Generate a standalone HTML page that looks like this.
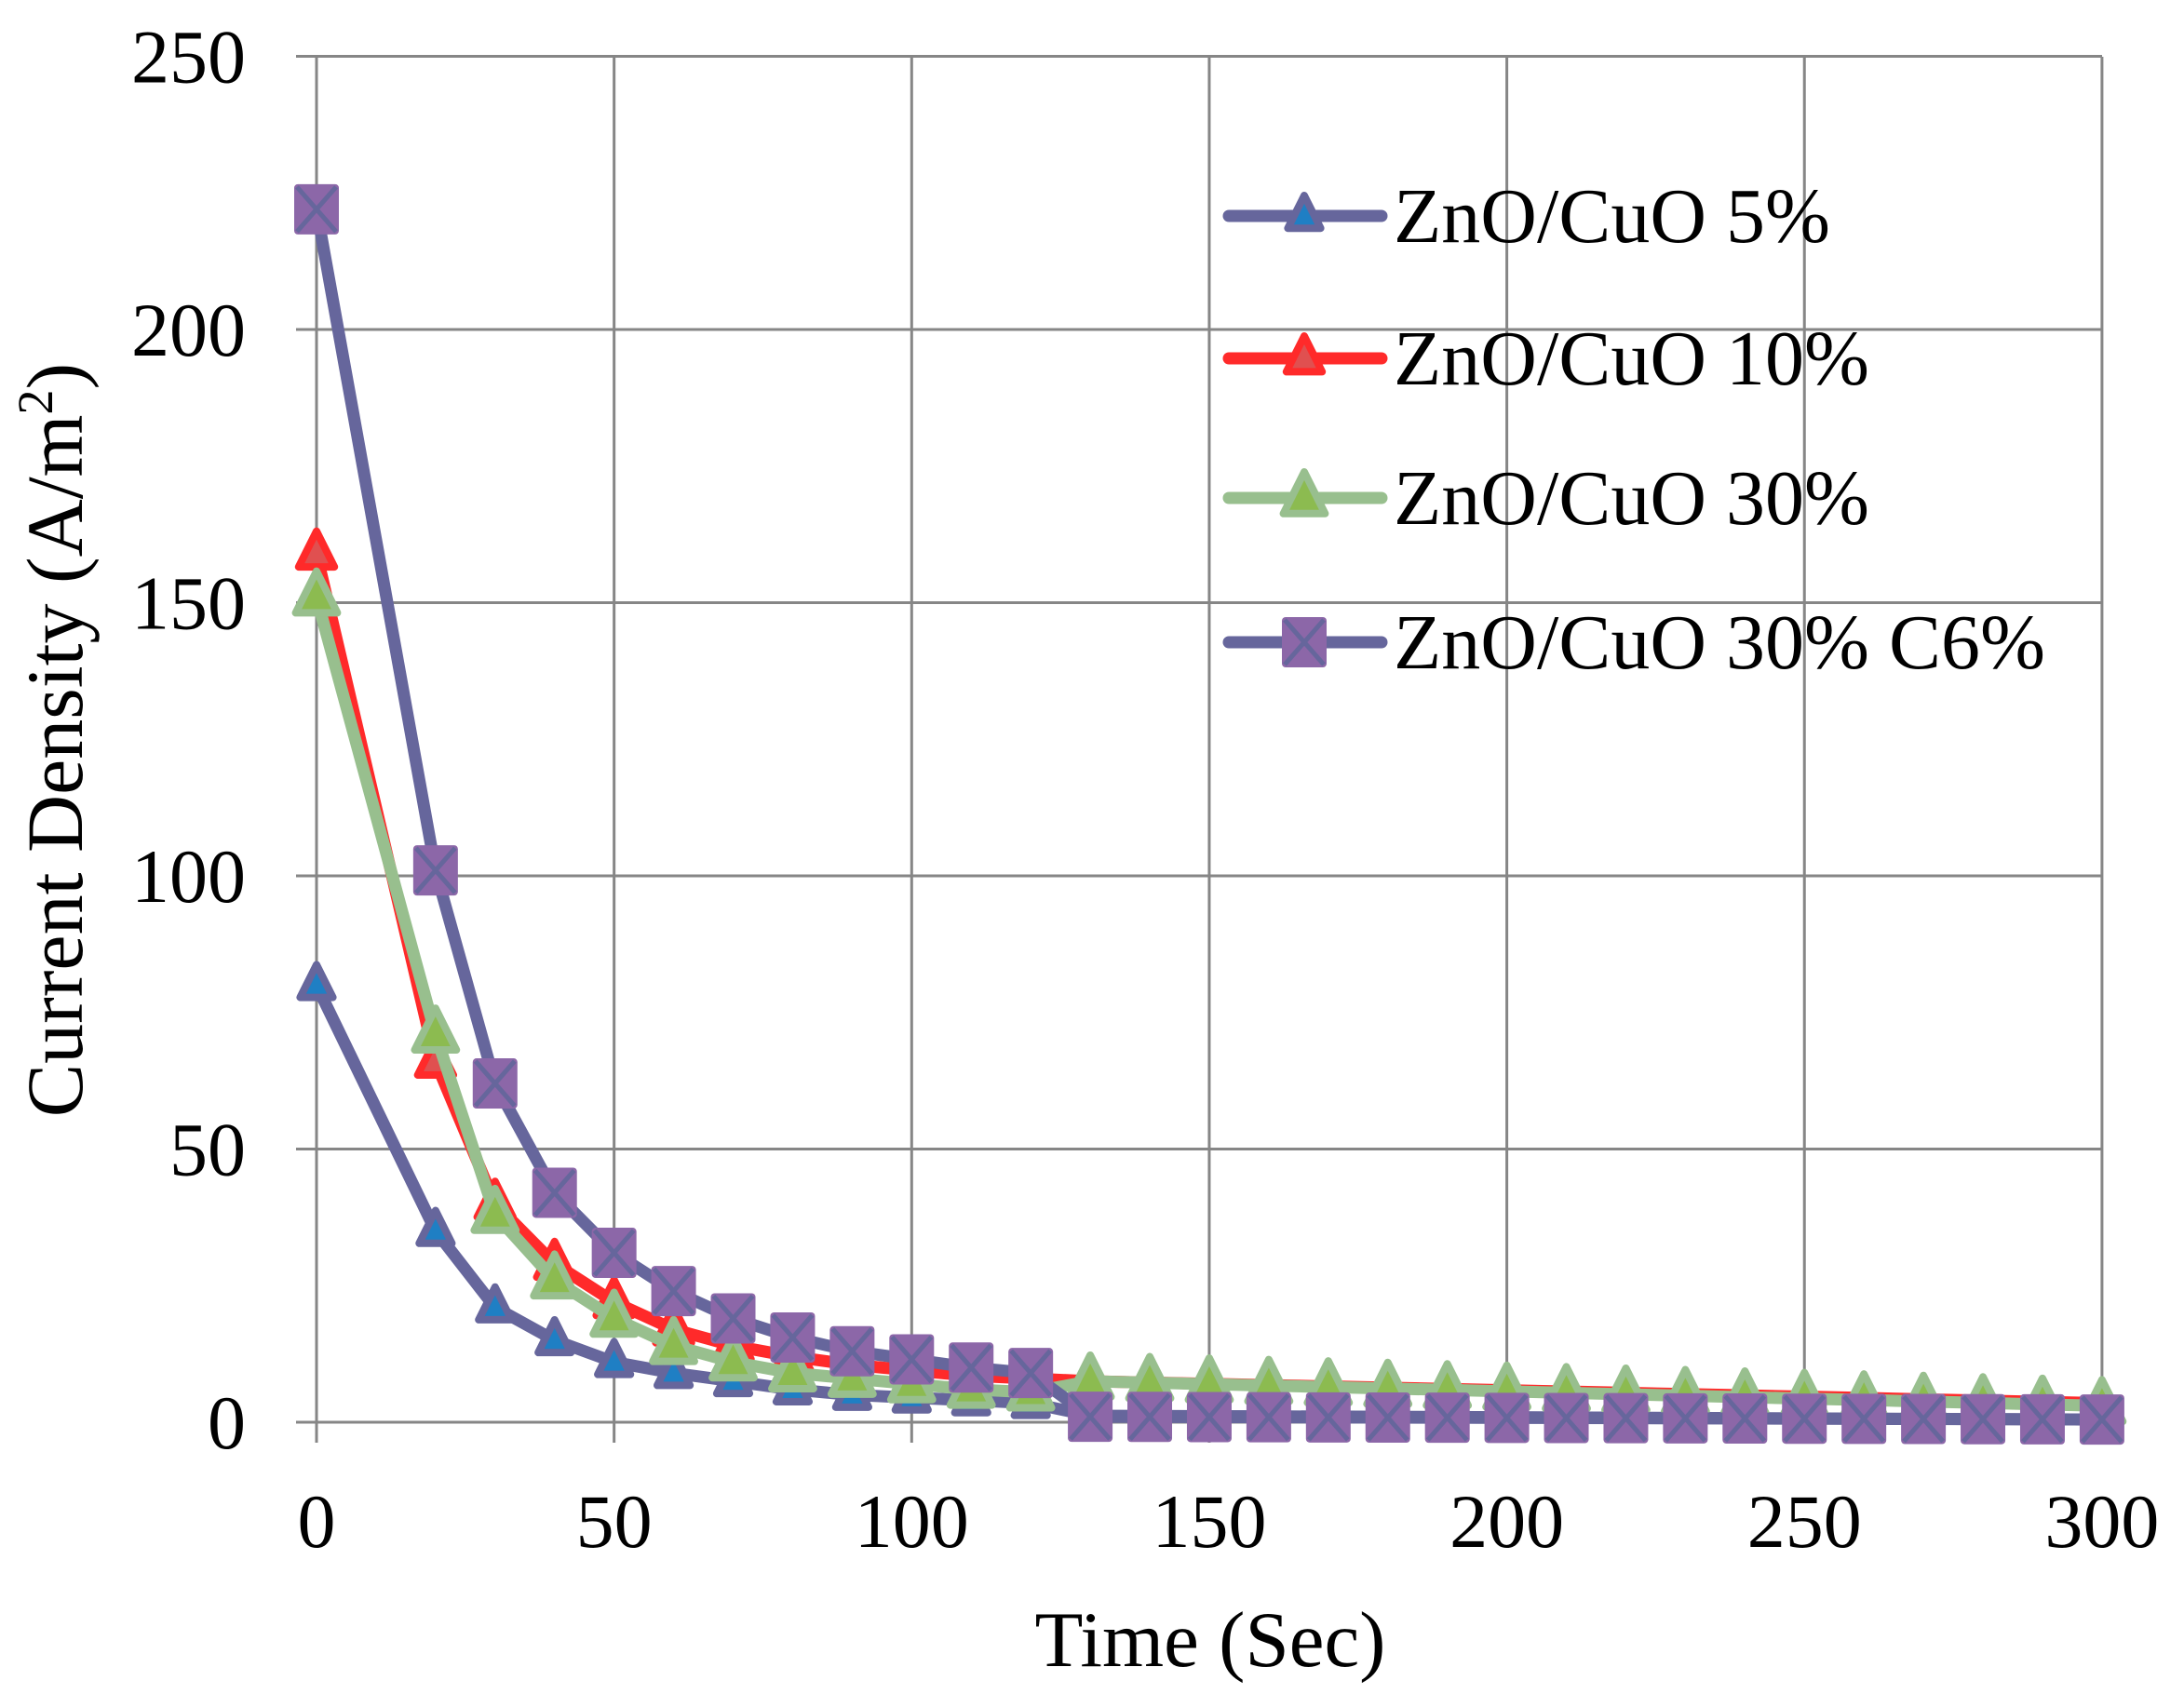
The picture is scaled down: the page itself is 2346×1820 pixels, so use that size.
<!DOCTYPE html>
<html><head><meta charset="utf-8"><style>
html,body{margin:0;padding:0;background:#fff;}
svg{display:block;}
text{font-family:"Liberation Serif",serif;fill:#000;}
</style></head><body>
<svg id="c" width="2346" height="1820" xmlns="http://www.w3.org/2000/svg">
<g id="grid" stroke="#868686" stroke-width="3"></g>
<g id="labels" font-size="82"></g>
<text x="1300" y="1790" font-size="85" text-anchor="middle">Time (Sec)</text>
<text transform="translate(88,795) rotate(-90)" font-size="86" text-anchor="middle">Current Density (A/m<tspan font-size="54" dy="-32">2</tspan><tspan dy="32">)</tspan></text>
<g id="series"></g>
<g id="legend"></g>
</svg>
<script>
const NS="http://www.w3.org/2000/svg";
const X=t=>340+t*6.393, Y=v=>1528-v*5.87;
function el(p,tag,a,txt){const e=document.createElementNS(NS,tag);for(const k in a)e.setAttribute(k,a[k]);if(txt!=null)e.textContent=txt;p.appendChild(e);return e;}
const g=document.getElementById('grid'),lb=document.getElementById('labels');
for(let v=0;v<=250;v+=50){el(g,'line',{x1:318,x2:2258,y1:Y(v),y2:Y(v)});el(lb,'text',{x:264,y:Y(v)+28,'text-anchor':'end'},v);}
for(let t=0;t<=300;t+=50){el(g,'line',{x1:X(t),x2:X(t),y1:61,y2:1550});el(lb,'text',{x:X(t),y:1662,'text-anchor':'middle'},t);}
const T=[0,20,30,40,50,60,70,80,90,100,110,120];for(let t=130;t<=300;t+=10)T.push(t);
function tail(a,b,n){const r=[];for(let i=0;i<n;i++)r.push(a+(b-a)*i/(n-1));return r;}
const s5=[80,35,21,15,11,9,7.5,6,5,4.5,4,3.5].concat(tail(1.2,0.5,18));
const s10=[159,66,40,29,22,17,14,12,10.5,9.5,8.5,8].concat(tail(7.5,3.5,18));
const s30=[151,71,38,26,19,14,11,9,8,7,6,5.5].concat(tail(7.5,3,18));
const sc6=[222,101,62,42,31,24,19,15.5,13,11.5,10,9].concat(tail(1,0.5,18));
const S=document.getElementById('series');
function line(p,d,col){el(p,'polyline',{points:T.map((t,i)=>X(t)+','+Y(d[i])).join(' '),fill:'none',stroke:col,'stroke-width':13,'stroke-linejoin':'round','stroke-linecap':'round'});}
function tri(p,x,y,fill,st,s){el(p,'polygon',{points:`${x},${y-s} ${x-s*0.8},${y+s*0.6} ${x+s*0.8},${y+s*0.6}`,fill:fill,stroke:st,'stroke-width':8,'stroke-linejoin':'round'});}
function sq(p,x,y){el(p,'rect',{x:x-24,y:y-27,width:48,height:54,rx:4,fill:'#8c67a8'});el(p,'path',{d:`M${x-21},${y-24}L${x+21},${y+24}M${x+21},${y-24}L${x-21},${y+24}`,stroke:'#66669c','stroke-width':5});}
line(S,s5,'#66669c');T.forEach((t,i)=>tri(S,X(t),Y(s5[i]),'#1f7fc4','#66669c',22));
line(S,s10,'#ff2a2a');T.forEach((t,i)=>tri(S,X(t),Y(s10[i]),'#e05050','#ff2a2a',24));
line(S,s30,'#98bf8e');T.forEach((t,i)=>tri(S,X(t),Y(s30[i]),'#8cbb50','#98bf8e',28));
line(S,sc6,'#66669c');T.forEach((t,i)=>sq(S,X(t),Y(sc6[i])));
const L=document.getElementById('legend');
const rows=[['ZnO/CuO 5%',232,'#66669c',p=>tri(L,1401,232,'#1f7fc4','#66669c',22)],
['ZnO/CuO 10%',385,'#ff2a2a',p=>tri(L,1401,385,'#e05050','#ff2a2a',24)],
['ZnO/CuO 30%',535,'#98bf8e',p=>tri(L,1401,535,'#8cbb50','#98bf8e',28)],
['ZnO/CuO 30% C6%',690,'#66669c',p=>sq(L,1401,690)]];
rows.forEach(r=>{el(L,'line',{x1:1320,x2:1484,y1:r[1],y2:r[1],stroke:r[2],'stroke-width':13,'stroke-linecap':'round'});r[3]();el(L,'text',{x:1497,y:r[1]+28,'font-size':84},r[0]);});
</script>
</body></html>
